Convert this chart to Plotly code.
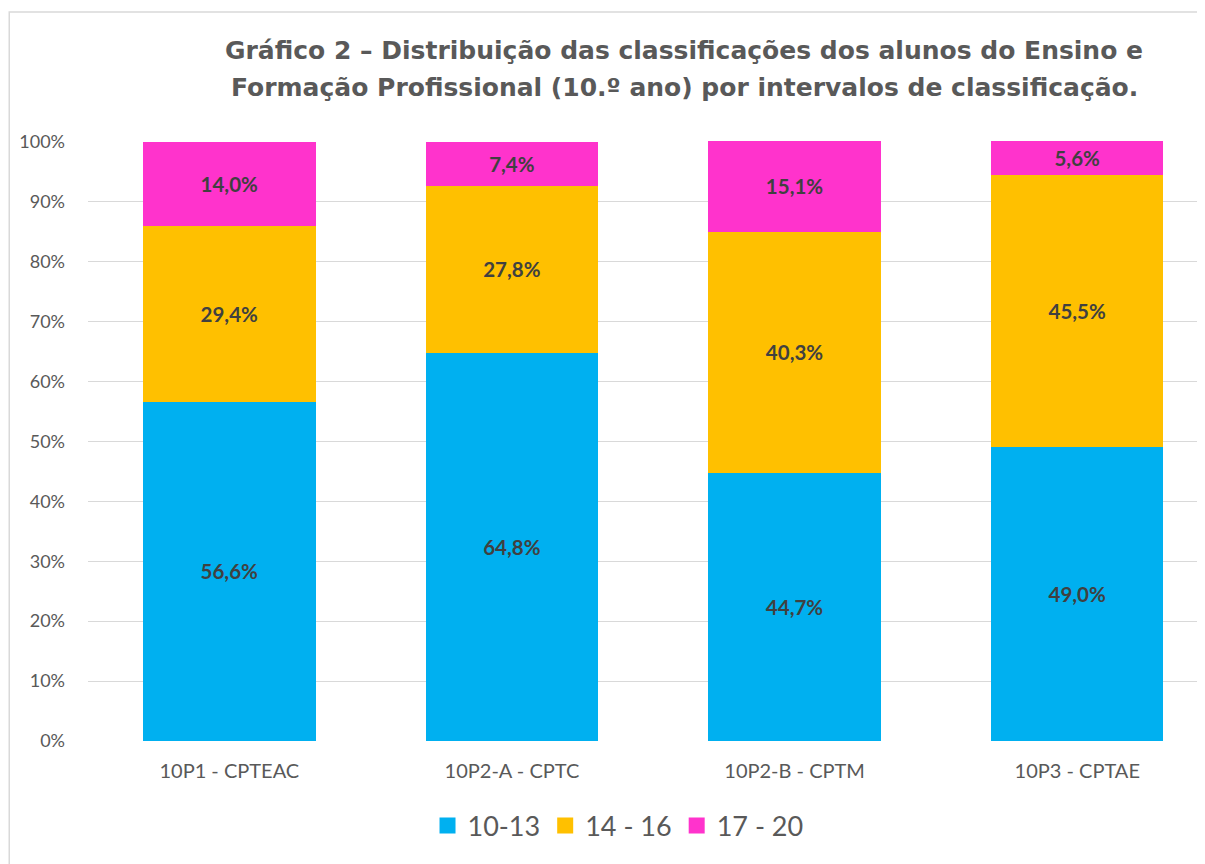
import plotly.graph_objects as go

categories = ["10P1 - CPTEAC", "10P2-A - CPTC", "10P2-B - CPTM", "10P3 - CPTAE"]
series_names = ["10-13", "14 - 16", "17 - 20"]
v_10_13 = [0.566, 0.648, 0.447, 0.490]
v_14_16 = [0.294, 0.278, 0.403, 0.455]
v_17_20 = [0.140, 0.074, 0.151, 0.056]
colors = ["#00B0F0", "#FFC000", "#FF33CC"]
y_ticks = [0, 0.1, 0.2, 0.3, 0.4, 0.5, 0.6, 0.7, 0.8, 0.9, 1.0]
title_lines = ["Gráfico 2 – Distribuição das classificações dos alunos do Ensino e",
               "Formação Profissional (10.º ano) por intervalos de classificação."]

fig = go.Figure()
for name, vals, col in zip(series_names, [v_10_13, v_14_16, v_17_20], colors):
    fig.add_trace(go.Bar(
        x=categories, y=vals, name=name,
        marker=dict(color=col, line=dict(width=0)),
        width=0.61,
        texttemplate="%{y:.1%}",
        textposition="inside",
        insidetextanchor="middle",
        textangle=0,
        insidetextfont=dict(family="Lato", size=20.5, color="#404040", weight="bold"),
        cliponaxis=False,
        showlegend=False,
    ))
# legend entries with larger square symbols
for name, col in zip(series_names, colors):
    fig.add_trace(go.Scatter(
        x=[None], y=[None], name=name, mode="markers",
        marker=dict(symbol="square", size=16, color=col),
        showlegend=True,
    ))

fig.update_layout(
    width=1197, height=856,
    barmode="stack",
    separators=",.",
    paper_bgcolor="white", plot_bgcolor="white",
    margin=dict(l=80, r=0, t=133, b=123),
    font=dict(family="Lato", color="#595959"),
    xaxis=dict(
        range=[-0.5, 3.452],
        showgrid=False, showline=False, zeroline=False,
        tickfont=dict(family="Lato", size=20, color="#595959"),
        ticks="", ticklabelstandoff=16,
    ),
    yaxis=dict(
        range=[0, 1.0012], tickvals=y_ticks, tickformat=".0%",
        showgrid=True, gridcolor="#D9D9D9", gridwidth=1.3,
        zeroline=False, showline=False,
        tickfont=dict(family="Lato", size=18, color="#595959"),
        ticks="", ticklabelstandoff=22,
    ),
    legend=dict(
        orientation="h", traceorder="normal",
        x=0.4745, xanchor="center", y=-0.1417, yanchor="middle",
        font=dict(family="Lato", size=27, color="#595959"),
        itemwidth=30,
    ),
    showlegend=True,
)

for i, (line, ypx) in enumerate(zip(title_lines, [42, 80])):
    fig.add_annotation(
        text=line, xref="paper", yref="paper",
        x=0.5336, xanchor="center",
        y=(733 - ypx) / 600, yanchor="middle",
        showarrow=False,
        font=dict(family="DejaVu Sans", size=25, color="#595959", weight="bold"),
    )

fig.add_shape(type="rect", xref="paper", yref="paper",
              x0=-0.0705, x1=1.1, y0=-0.4, y1=1.215,
              line=dict(color="#D9D9D9", width=1.5), fillcolor="rgba(0,0,0,0)",
              layer="below")

fig.write_html("out.html")
